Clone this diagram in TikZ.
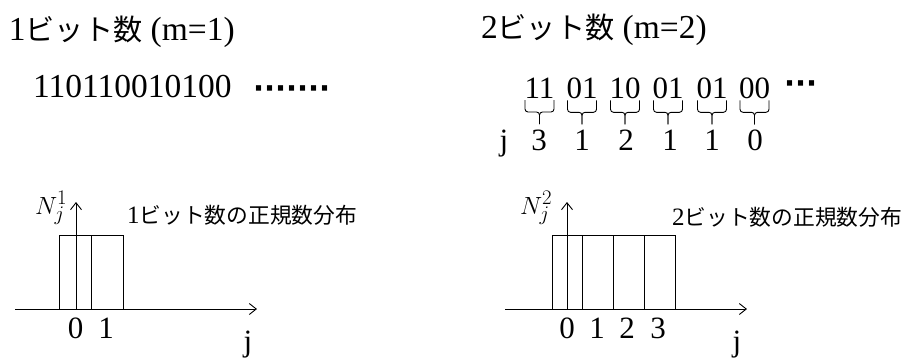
\documentclass[tikz,border=0pt]{standalone}
\usepackage{fontspec}
\setmainfont{Liberation Serif}
\newfontfamily\cjk[Scale=0.87]{Noto Sans CJK JP}
\newfontfamily\dvs{DejaVu Sans}
\usetikzlibrary{arrows.meta}
\begin{document}
\begin{tikzpicture}[x=1pt,y=-1pt,
  every node/.style={inner sep=0pt, outer sep=0pt},
  big/.style={font=\fontsize{33.5}{36}\selectfont, anchor=base west},
  mid/.style={font=\fontsize{31}{34}\selectfont, anchor=base},
  small/.style={font=\fontsize{25}{28}\selectfont, anchor=west},
  dotrow/.style={font=\dvs\bfseries\fontsize{29}{30}\selectfont, anchor=base west},
  axis/.style={line width=0.9pt, -{Straight Barb[length=7pt,width=11pt,line width=0.9pt]}},
  barL/.style={draw, line width=0.9pt, minimum width=31.75pt, minimum height=74pt, anchor=south west},
  barR/.style={draw, line width=0.9pt, minimum width=30.75pt, minimum height=74pt, anchor=south west},
  bracket/.style={line width=0.9pt, rounded corners=3pt},
  nlabel/.style={anchor=base west, font=\fontsize{28}{30}\selectfont},
]
\useasboundingbox (0,0) rectangle (901,360);

% titles
\node[big] (h1) at (9,40) {1{\cjk ビット数} (m=1)};
\node[big] (h2) at (481,38) {2{\cjk ビット数} (m=2)};

% 1-bit sequence
\node[big] (s1) at (33,97) {110110010100};
\node[dotrow] (d1) at (253,98) {·······};

% 2-bit pairs
\node[mid] (p1) at (539.5,98) {11};
\node[mid] (p2) at (582,98) {01};
\node[mid] (p3) at (625,98) {10};
\node[mid] (p4) at (668,98) {01};
\node[mid] (p5) at (712,98) {01};
\node[mid] (p6) at (754.5,98) {00};
\node[dotrow] (d2) at (784,93) {···};

\foreach \i in {1,...,6} {
  \draw[bracket] ([xshift=-14.5pt,yshift=-2pt]p\i.south) |- ([yshift=-14pt]p\i.south) -- ([yshift=-26pt]p\i.south);
  \draw[bracket] ([xshift=14.5pt,yshift=-2pt]p\i.south) |- ([yshift=-14pt]p\i.south) -- ([yshift=-26pt]p\i.south);
}

% j values
\node[mid] (jj) at (504,150) {j};
\node[mid] (v1) at (539,150) {3};
\node[mid] (v2) at (582,150) {1};
\node[mid] (v3) at (626,150) {2};
\node[mid] (v4) at (670,150) {1};
\node[mid] (v5) at (712,150) {1};
\node[mid] (v6) at (755,150) {0};

% left chart
\coordinate (xs1) at (15,309);
\coordinate (xe1) at (257,309);
\coordinate (o1) at (76,309);
\coordinate (ye1) at (76,202);
\node[barL] (b10) at (59.5,309) {};
\node[barL] (b11) at (b10.south east) {};
\draw[axis] (xs1) -- (xe1);
\draw[axis] (o1) -- (ye1);
\node[nlabel] (n1) at (35,214) {$N_j^1$};
\node[small] (t1) at (127,215) {1{\cjk ビット数の正規数分布}};
\node[mid] (l10) at (75.5,338) {0};
\node[mid] (l11) at (106,338) {1};
\node[mid] (j1) at (248,351) {j};

% right chart
\coordinate (xs2) at (505,309);
\coordinate (xe2) at (747,309);
\coordinate (o2) at (567,309);
\coordinate (ye2) at (567,202);
\node[barR] (b20) at (552,309) {};
\node[barR] (b21) at (b20.south east) {};
\node[barR] (b22) at (b21.south east) {};
\node[barR] (b23) at (b22.south east) {};
\draw[axis] (xs2) -- (xe2);
\draw[axis] (o2) -- (ye2);
\node[nlabel] (n2) at (520,214) {$N_j^2$};
\node[small] (t2) at (672,217) {2{\cjk ビット数の正規数分布}};
\node[mid] (l20) at (567,338) {0};
\node[mid] (l21) at (597,338) {1};
\node[mid] (l22) at (627,338) {2};
\node[mid] (l23) at (658,338) {3};
\node[mid] (j2) at (737,351) {j};
\end{tikzpicture}
\end{document}
